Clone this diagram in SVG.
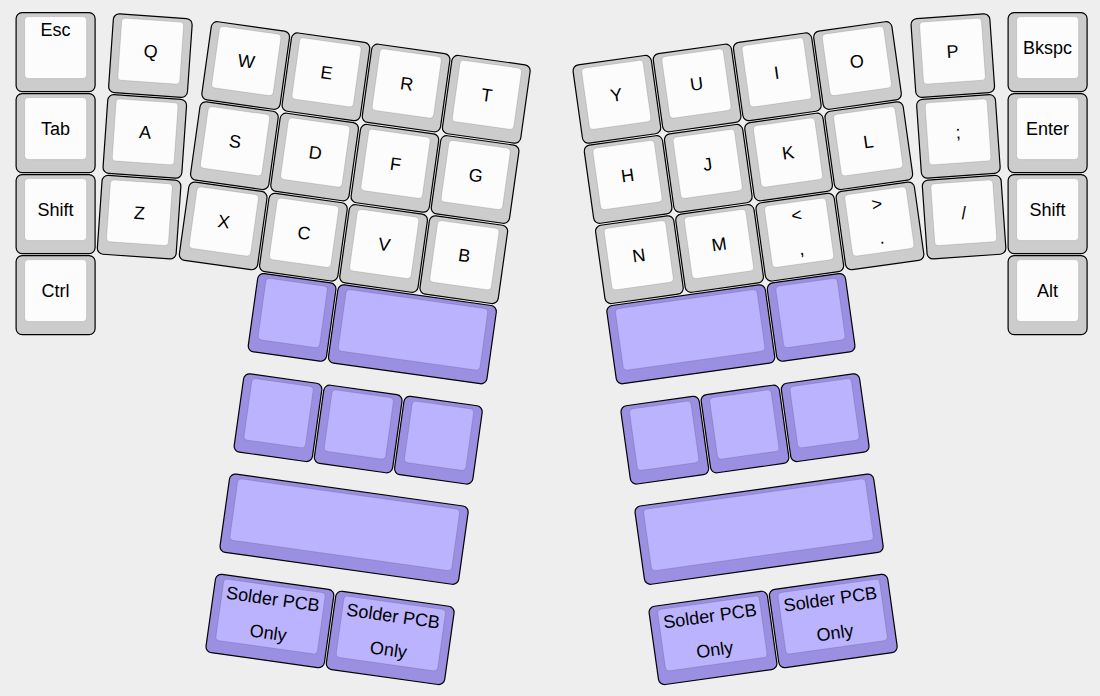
<svg xmlns="http://www.w3.org/2000/svg" width="1100" height="696" viewBox="0 0 1100 696">
<style>
.o{fill:#cccccc;stroke:#000;stroke-width:1.2}
.i{fill:#fcfcfc;stroke:#000;stroke-opacity:0.12;stroke-width:1}
.po{fill:#9b8fe2;stroke:#000;stroke-width:1.2}
.pi{fill:#bbb3fd;stroke:#000;stroke-opacity:0.12;stroke-width:1}
text{font-family:"Liberation Sans",Arial,sans-serif;font-size:18px;fill:#000;text-anchor:middle}
</style>
<defs>
<g id="k1"><rect class="o" x="-39.5" y="-39.5" width="79" height="79" rx="6"/><rect class="i" x="-31" y="-35.5" width="62" height="62" rx="4"/></g>
<g id="p1"><rect class="po" x="-39.5" y="-39.5" width="79" height="79" rx="6"/><rect class="pi" x="-31" y="-35.5" width="62" height="62" rx="4"/></g>
<g id="p15"><rect class="po" x="-59.75" y="-39.5" width="119.5" height="79" rx="6"/><rect class="pi" x="-51.25" y="-35.5" width="102.5" height="62" rx="4"/></g>
<g id="p2"><rect class="po" x="-80" y="-39.5" width="160" height="79" rx="6"/><rect class="pi" x="-71.5" y="-35.5" width="143" height="62" rx="4"/></g>
<g id="p3"><rect class="po" x="-120.5" y="-39.5" width="241" height="79" rx="6"/><rect class="pi" x="-112" y="-35.5" width="224" height="62" rx="4"/></g>
</defs>
<rect x="0" y="0" width="1100" height="696" fill="#eeeeee"/>
<g id="left-half">
<g id="key-esc" transform="translate(55.6 52.1)"><use href="#k1"/><text y="-16">Esc</text></g>
<g id="key-tab" transform="translate(55.6 133.1)"><use href="#k1"/><text y="2">Tab</text></g>
<g id="key-lshift" transform="translate(55.6 214.1)"><use href="#k1"/><text y="2">Shift</text></g>
<g id="key-ctrl" transform="translate(55.6 295.1)"><use href="#k1"/><text y="2">Ctrl</text></g>
<g id="key-q" transform="translate(150.4 55.6) rotate(4)"><use href="#k1"/><text y="2">Q</text></g>
<g id="key-a" transform="translate(144.8 136.4) rotate(4)"><use href="#k1"/><text y="2">A</text></g>
<g id="key-z" transform="translate(139.1 217.2) rotate(4)"><use href="#k1"/><text y="2">Z</text></g>
<g id="key-w" transform="translate(245.7 65.5) rotate(8)"><use href="#k1"/><text y="2">W</text></g>
<g id="key-e" transform="translate(325.9 76.8) rotate(8)"><use href="#k1"/><text y="2">E</text></g>
<g id="key-r" transform="translate(406.1 88.0) rotate(8)"><use href="#k1"/><text y="2">R</text></g>
<g id="key-t" transform="translate(486.3 99.3) rotate(8)"><use href="#k1"/><text y="2">T</text></g>
<g id="key-s" transform="translate(234.4 145.7) rotate(8)"><use href="#k1"/><text y="2">S</text></g>
<g id="key-d" transform="translate(314.6 157.0) rotate(8)"><use href="#k1"/><text y="2">D</text></g>
<g id="key-f" transform="translate(394.9 168.3) rotate(8)"><use href="#k1"/><text y="2">F</text></g>
<g id="key-g" transform="translate(475.1 179.5) rotate(8)"><use href="#k1"/><text y="2">G</text></g>
<g id="key-x" transform="translate(223.2 225.9) rotate(8)"><use href="#k1"/><text y="2">X</text></g>
<g id="key-c" transform="translate(303.4 237.2) rotate(8)"><use href="#k1"/><text y="2">C</text></g>
<g id="key-v" transform="translate(383.6 248.5) rotate(8)"><use href="#k1"/><text y="2">V</text></g>
<g id="key-b" transform="translate(463.8 259.7) rotate(8)"><use href="#k1"/><text y="2">B</text></g>
<g id="lthumb-1" transform="translate(292.1 317.4) rotate(8)"><use href="#p1"/></g>
<g id="lthumb-2" transform="translate(412.4 334.3) rotate(8)"><use href="#p2"/></g>
<g id="lthumb-3" transform="translate(278.0 417.7) rotate(8)"><use href="#p1"/></g>
<g id="lthumb-4" transform="translate(358.2 429.0) rotate(8)"><use href="#p1"/></g>
<g id="lthumb-5" transform="translate(438.4 440.2) rotate(8)"><use href="#p1"/></g>
<g id="lthumb-6" transform="translate(344.1 529.2) rotate(8)"><use href="#p3"/></g>
<g id="lthumb-7" transform="translate(269.9 621.0) rotate(8)"><use href="#p15"/><text y="-16">Solder PCB</text><text y="18">Only</text></g>
<g id="lthumb-8" transform="translate(390.2 637.9) rotate(8)"><use href="#p15"/><text y="-16">Solder PCB</text><text y="18">Only</text></g>
</g>
<g id="right-half">
<g id="key-bkspc" transform="translate(1047.6 52.1)"><use href="#k1"/><text y="2">Bkspc</text></g>
<g id="key-enter" transform="translate(1047.6 133.1)"><use href="#k1"/><text y="2">Enter</text></g>
<g id="key-rshift" transform="translate(1047.6 214.1)"><use href="#k1"/><text y="2">Shift</text></g>
<g id="key-alt" transform="translate(1047.6 295.1)"><use href="#k1"/><text y="2">Alt</text></g>
<g id="key-p" transform="translate(952.8 55.6) rotate(-4)"><use href="#k1"/><text y="2">P</text></g>
<g id="key-semicolon" transform="translate(958.4 136.4) rotate(-4)"><use href="#k1"/><text y="2">;</text></g>
<g id="key-slash" transform="translate(964.1 217.2) rotate(-4)"><use href="#k1"/><text y="2">/</text></g>
<g id="key-o" transform="translate(857.5 65.5) rotate(-8)"><use href="#k1"/><text y="2">O</text></g>
<g id="key-i" transform="translate(777.3 76.8) rotate(-8)"><use href="#k1"/><text y="2">I</text></g>
<g id="key-u" transform="translate(697.1 88.0) rotate(-8)"><use href="#k1"/><text y="2">U</text></g>
<g id="key-y" transform="translate(616.9 99.3) rotate(-8)"><use href="#k1"/><text y="2">Y</text></g>
<g id="key-l" transform="translate(868.8 145.7) rotate(-8)"><use href="#k1"/><text y="2">L</text></g>
<g id="key-k" transform="translate(788.6 157.0) rotate(-8)"><use href="#k1"/><text y="2">K</text></g>
<g id="key-j" transform="translate(708.3 168.3) rotate(-8)"><use href="#k1"/><text y="2">J</text></g>
<g id="key-h" transform="translate(628.1 179.5) rotate(-8)"><use href="#k1"/><text y="2">H</text></g>
<g id="key-period" transform="translate(880.0 225.9) rotate(-8)"><use href="#k1"/><text y="-16">&gt;</text><text y="18">.</text></g>
<g id="key-comma" transform="translate(799.8 237.2) rotate(-8)"><use href="#k1"/><text y="-16">&lt;</text><text y="18">,</text></g>
<g id="key-m" transform="translate(719.6 248.5) rotate(-8)"><use href="#k1"/><text y="2">M</text></g>
<g id="key-n" transform="translate(639.4 259.7) rotate(-8)"><use href="#k1"/><text y="2">N</text></g>
<g id="rthumb-1" transform="translate(811.1 317.4) rotate(-8)"><use href="#p1"/></g>
<g id="rthumb-2" transform="translate(690.8 334.3) rotate(-8)"><use href="#p2"/></g>
<g id="rthumb-3" transform="translate(825.2 417.7) rotate(-8)"><use href="#p1"/></g>
<g id="rthumb-4" transform="translate(745.0 429.0) rotate(-8)"><use href="#p1"/></g>
<g id="rthumb-5" transform="translate(664.8 440.2) rotate(-8)"><use href="#p1"/></g>
<g id="rthumb-6" transform="translate(759.1 529.2) rotate(-8)"><use href="#p3"/></g>
<g id="rthumb-7" transform="translate(833.3 621.0) rotate(-8)"><use href="#p15"/><text y="-16">Solder PCB</text><text y="18">Only</text></g>
<g id="rthumb-8" transform="translate(713.0 637.9) rotate(-8)"><use href="#p15"/><text y="-16">Solder PCB</text><text y="18">Only</text></g>
</g>
<g id="connectors"/>
</svg>
